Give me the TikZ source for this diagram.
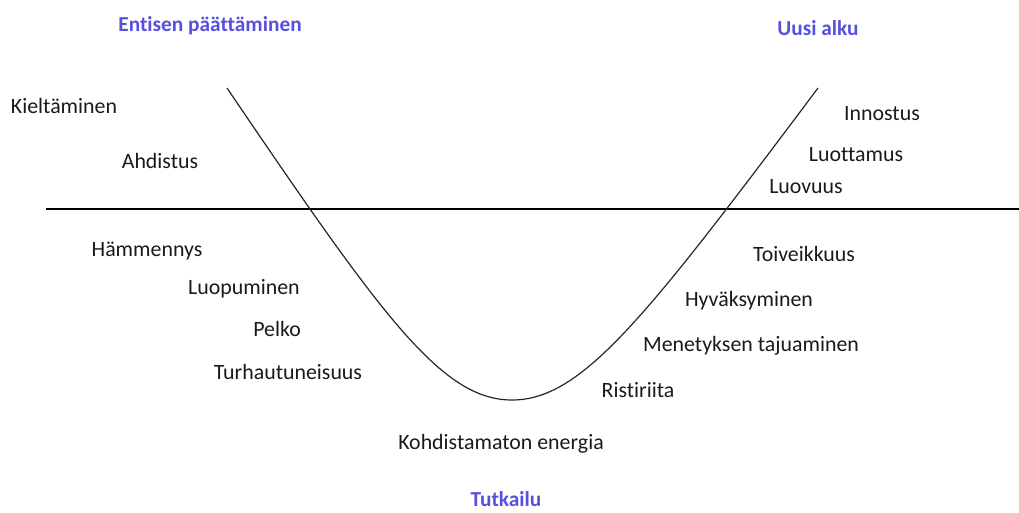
\documentclass[tikz,border=0pt]{standalone}
\usepackage{fontspec}
\setmainfont{Carlito}[Ligatures={NoCommon}]
\definecolor{headblue}{HTML}{5551DD}
\definecolor{txt}{HTML}{1A1A1A}
\begin{document}
\begin{tikzpicture}[x=0.75pt,y=-0.75pt,
  lbl/.style={font=\fontsize{16.4}{19}\selectfont, text=txt, inner sep=0pt},
  head/.style={font=\fontsize{16}{19}\selectfont\bfseries, text=headblue, inner sep=0pt},
  curveline/.style={draw=black!85, line width=0.9pt},
  axisline/.style={draw=black, line width=1.1pt}]
\useasboundingbox (0,0) rectangle (1019,512);
% axis
\coordinate (axL) at (46,209);
\coordinate (axR) at (1019,209);
\draw[axisline] (axL) -- (axR);
% curve
\coordinate (cTopL) at (227,88);
\coordinate (cBot) at (512,400);
\coordinate (cTopR) at (818,88);
\draw[curveline] (cTopL) .. controls (383,318) and (442,400) .. (cBot)
  .. controls (582,400) and (645.5,318) .. (cTopR);
% headings
\node[head] (h1) at (210,26) {Entisen päättäminen};
\node[head] (h2) at (818,28) {Uusi alku};
\node[head] (h3) at (506,499) {Tutkailu};
% labels
\node[lbl] (l1) at (64,106) {Kieltäminen};
\node[lbl] (l2) at (160,161) {Ahdistus};
\node[lbl] (l3) at (882,114) {Innostus};
\node[lbl] (l4) at (856,155) {Luottamus};
\node[lbl] (l5) at (806,187) {Luovuus};
\node[lbl] (l6) at (147,251) {Hämmennys};
\node[lbl] (l7) at (244,289) {Luopuminen};
\node[lbl] (l8) at (277,329) {Pelko};
\node[lbl] (l9) at (288,372) {Turhautuneisuus};
\node[lbl] (l10) at (804,254) {Toiveikkuus};
\node[lbl] (l11) at (749,301) {Hyväksyminen};
\node[lbl] (l12) at (751,346) {Menetyksen tajuaminen};
\node[lbl] (l13) at (638,390) {Ristiriita};
\node[lbl] (l14) at (501,444) {Kohdistamaton energia};
\end{tikzpicture}
\end{document}
